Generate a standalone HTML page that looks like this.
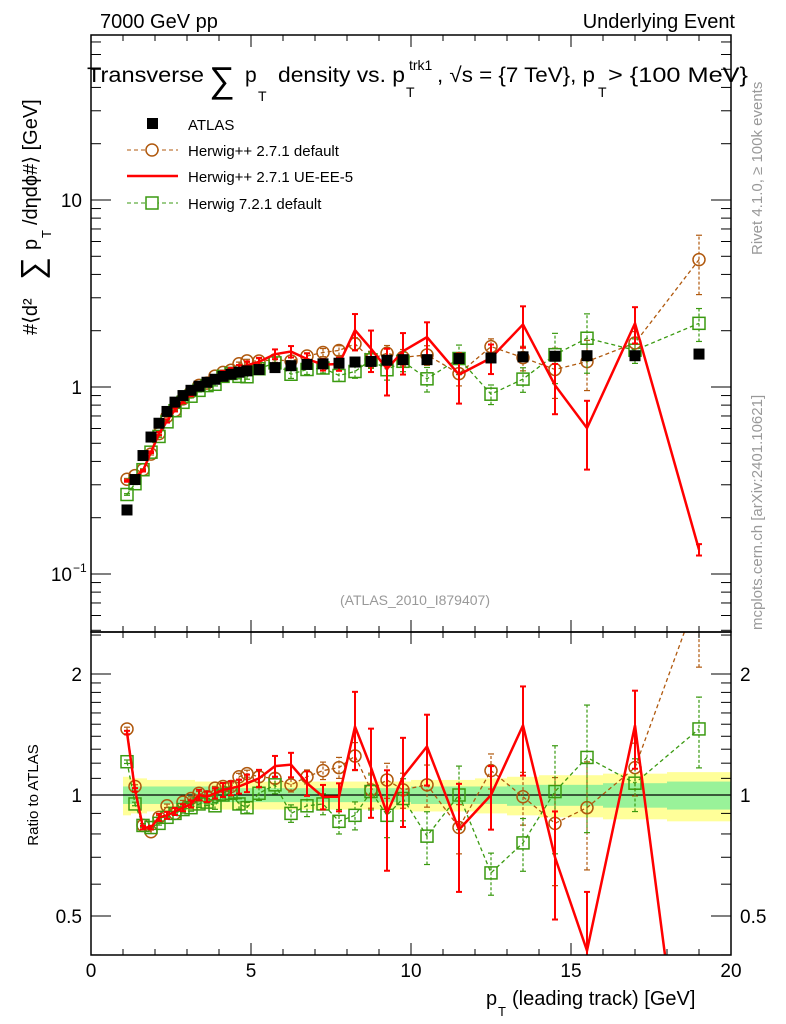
<!DOCTYPE html>
<html><head><meta charset="utf-8"><style>
html,body{margin:0;padding:0;background:#fff;overflow:hidden}
svg{display:block;font-family:"Liberation Sans",sans-serif}
</style></head><body>
<svg id="c" width="786" height="1024" viewBox="0 0 786 1024" xmlns="http://www.w3.org/2000/svg">
<text x="100" y="28" font-size="20">7000 GeV pp</text>
<text x="735" y="28" font-size="20" text-anchor="end">Underlying Event</text>
<g font-size="21">
<text x="87" y="82" textLength="117" lengthAdjust="spacingAndGlyphs">Transverse</text>
<text x="209" y="92" font-size="36">∑</text>
<text x="245" y="82">p</text><text x="258" y="101" font-size="14">T</text>
<text x="278" y="82" textLength="127" lengthAdjust="spacingAndGlyphs">density vs. p</text><text x="409" y="70" font-size="14">trk1</text><text x="406" y="97" font-size="14">T</text>
<text x="437" y="82" textLength="158" lengthAdjust="spacingAndGlyphs">, √s = {7 TeV}, p</text><text x="598" y="97" font-size="14">T</text>
<text x="608" y="82" textLength="140" lengthAdjust="spacingAndGlyphs">&gt; {100 MeV}</text>
</g>
<g transform="translate(37,335) rotate(-90)" font-size="20">
<text x="0" y="0">#⟨d² </text><text x="55" y="6" font-size="32">∑</text><text x="85" y="0">p</text><text x="97" y="14" font-size="13">T</text><text x="110" y="0">/dηdϕ#⟩ [GeV]</text>
</g>
<text transform="translate(762,255) rotate(-90)" font-size="15" fill="#999">Rivet 4.1.0, ≥ 100k events</text>
<text transform="translate(762,630) rotate(-90)" font-size="15" fill="#999">mcplots.cern.ch [arXiv:2401.10621]</text>
<text x="415" y="605" font-size="14" fill="#999" text-anchor="middle">(ATLAS_2010_I879407)</text>
<text transform="translate(38,795) rotate(-90)" font-size="15" text-anchor="middle">Ratio to ATLAS</text>
<g font-size="20"><text x="486" y="1005">p</text><text x="498" y="1016" font-size="13">T</text><text x="512" y="1005">(leading track) [GeV]</text></g>
<g font-size="15">
<g><rect x="147" y="118" width="11" height="11" fill="#000"/><text x="188" y="130">ATLAS</text></g>
<g><line x1="127" y1="150" x2="178" y2="150" stroke="#b0590e" stroke-dasharray="4,3"/><circle cx="152" cy="150" r="6" fill="#fff" stroke="#b0590e" stroke-width="1.5"/><text x="188" y="156">Herwig++ 2.7.1 default</text></g>
<g><line x1="127" y1="176" x2="178" y2="176" stroke="#f00" stroke-width="2.5"/><text x="188" y="182">Herwig++ 2.7.1 UE-EE-5</text></g>
<g><line x1="127" y1="203" x2="178" y2="203" stroke="#3a9a10" stroke-dasharray="4,3"/><rect x="146" y="197" width="12" height="12" fill="#fff" stroke="#3a9a10" stroke-width="1.5"/><text x="188" y="209">Herwig 7.2.1 default</text></g>
</g>
<g id="plots"></g>
</svg>
<script>
const xVals=[1.125,1.375,1.625,1.875,2.125,2.375,2.625,2.875,3.125,3.375,3.625,3.875,4.125,4.375,4.625,4.875,5.25,5.75,6.25,6.75,7.25,7.75,8.25,8.75,9.25,9.75,10.5,11.5,12.5,13.5,14.5,15.5,17,19];
const binEdges=[1,1.25,1.5,1.75,2,2.25,2.5,2.75,3,3.25,3.5,3.75,4,4.25,4.5,4.75,5,5.5,6,6.5,7,7.5,8,8.5,9,9.5,10,11,12,13,14,15,16,18,20];
const atlas=[0.22,0.32,0.43,0.54,0.64,0.74,0.83,0.90,0.96,1.01,1.06,1.10,1.14,1.17,1.20,1.22,1.24,1.27,1.30,1.32,1.33,1.34,1.36,1.37,1.39,1.40,1.40,1.42,1.43,1.45,1.46,1.47,1.47,1.50];
const atlasStat=[0.05,0.05,0.05,0.05,0.05,0.05,0.05,0.05,0.05,0.05,0.05,0.05,0.04,0.04,0.04,0.04,0.04,0.04,0.04,0.04,0.04,0.04,0.04,0.04,0.04,0.04,0.05,0.05,0.05,0.06,0.06,0.06,0.07,0.08];
const atlasTot=[0.11,0.10,0.10,0.09,0.09,0.09,0.09,0.09,0.09,0.08,0.08,0.08,0.08,0.08,0.08,0.08,0.08,0.08,0.08,0.08,0.08,0.08,0.08,0.08,0.08,0.08,0.09,0.09,0.10,0.11,0.12,0.12,0.13,0.14];
const ratioHppDef=[1.46,1.05,0.84,0.81,0.88,0.94,0.90,0.96,0.98,1.01,0.99,1.04,1.05,1.05,1.11,1.13,1.11,1.10,1.06,1.11,1.15,1.17,1.25,1.03,1.09,1.03,1.06,0.83,1.15,0.99,0.85,0.93,1.17,3.2];
const ratioHppUE=[1.43,1.03,0.83,0.83,0.88,0.89,0.91,0.93,0.95,1.0,0.99,1.01,1.03,1.04,1.05,1.07,1.10,1.18,1.19,1.07,0.99,0.99,1.48,1.17,0.90,1.11,1.32,0.82,1.0,1.49,0.70,0.41,1.49,0.09];
const ratioH7=[1.21,0.95,0.84,0.83,0.85,0.88,0.90,0.92,0.93,0.95,0.96,0.94,1.0,1.01,0.95,0.93,1.01,1.06,0.90,0.94,0.95,0.86,0.89,1.02,0.89,0.98,0.79,1.0,0.64,0.76,1.02,1.24,1.07,1.46];
const errHppDef=[0.01,0.01,0.01,0.01,0.01,0.01,0.01,0.01,0.01,0.01,0.01,0.01,0.02,0.02,0.02,0.02,0.03,0.03,0.04,0.04,0.05,0.06,0.08,0.1,0.1,0.1,0.12,0.14,0.1,0.15,0.3,0.3,0.15,0.35];
const errHppUE=[0.01,0.01,0.01,0.01,0.02,0.02,0.02,0.02,0.02,0.03,0.03,0.03,0.04,0.04,0.04,0.05,0.05,0.06,0.07,0.07,0.07,0.08,0.22,0.25,0.28,0.25,0.2,0.3,0.18,0.25,0.3,0.4,0.22,0.07];
const errH7=[0.01,0.01,0.01,0.01,0.01,0.01,0.01,0.02,0.02,0.02,0.02,0.02,0.03,0.03,0.03,0.03,0.04,0.05,0.05,0.06,0.06,0.07,0.08,0.1,0.12,0.12,0.15,0.18,0.12,0.15,0.3,0.35,0.15,0.2];

const NS='http://www.w3.org/2000/svg';
const g=document.getElementById('plots');
function el(t,a,p){const e=document.createElementNS(NS,t);for(const k in a)e.setAttribute(k,a[k]);(p||g).appendChild(e);return e;}
const X0=91,X1=731;
const xs=v=>X0+(X1-X0)*v/20;
const ys=v=>387-187*Math.log10(v);
const yr=v=>795-121*Math.log2(v);
const MT=35,MB=632,RT=632,RB=955;

for(let i=0;i<xVals.length;i++){
  const a=xs(binEdges[i]),b=xs(binEdges[i+1]);
  const r1=el('rect',{x:a,y:yr(1+atlasTot[i]),width:b-a,height:yr(1-atlasTot[i])-yr(1+atlasTot[i]),fill:'#ffff99'});
  
  
  const r2=el('rect',{x:a,y:yr(1+atlasStat[i]),width:b-a,height:yr(1-atlasStat[i])-yr(1+atlasStat[i]),fill:'#99f299'});
  
  
}
el('line',{x1:X0,y1:yr(1),x2:X1,y2:yr(1),stroke:'#000','stroke-width':1.2});

const defs=el('defs',{});
const c1=el('clipPath',{id:'cm'},defs);el('rect',{x:X0,y:MT,width:X1-X0,height:MB-MT},c1);
const c2=el('clipPath',{id:'cr'},defs);el('rect',{x:X0,y:RT,width:X1-X0,height:RB-RT},c2);
const gm=el('g',{'clip-path':'url(#cm)'});
const gr=el('g',{'clip-path':'url(#cr)'});

const series=[
 {r:ratioHppDef,e:errHppDef,c:'#b0590e',dash:'4,3',w:1.3,m:'circle',n:'herwigpp-default'},
 {r:ratioH7,e:errH7,c:'#3a9a10',dash:'4,3',w:1.3,m:'square',n:'herwig7-default'},
 {r:ratioHppUE,e:errHppUE,c:'#f00',dash:null,w:2.5,m:null,n:'herwigpp-ueee5'}
];
for(const s of series){
  for(const [grp,yf,isR] of [[gm,ys,false],[gr,yr,true]]){
    const pts=xVals.map((x,i)=>{const v=isR?s.r[i]:s.r[i]*atlas[i];return [xs(x),yf(v)];});
    const pl=el('polyline',{points:pts.map(p=>p.join(',')).join(' '),fill:'none',stroke:s.c,'stroke-width':s.w},grp);
    if(s.dash)pl.setAttribute('stroke-dasharray',s.dash);
    
    
    xVals.forEach((x,i)=>{
      const v=isR?s.r[i]:s.r[i]*atlas[i];
      const e=s.e[i];
      const lo=yf(v*(1-e)),hi=yf(v*(1+e)),px=xs(x);
      const eb=el('g',{stroke:s.c,'stroke-width':s.w>2?2:1.2},grp);
      
      
      const ln=el('line',{x1:px,y1:lo,x2:px,y2:hi},eb);if(s.dash)ln.setAttribute('stroke-dasharray','3,2');
      el('line',{x1:px-3,y1:lo,x2:px+3,y2:lo},eb);el('line',{x1:px-3,y1:hi,x2:px+3,y2:hi},eb);
      let mk;
      if(s.m==='circle')mk=el('circle',{cx:px,cy:yf(v),r:6,fill:'none',stroke:s.c,'stroke-width':1.5},grp);
      else if(s.m==='square')mk=el('rect',{x:px-6,y:yf(v)-6,width:12,height:12,fill:'none',stroke:s.c,'stroke-width':1.5},grp);
      if(mk){}
    });
  }
}
xVals.forEach((x,i)=>{
  const r=el('rect',{x:xs(x)-5.5,y:ys(atlas[i])-5.5,width:11,height:11,fill:'#000'},gm);
  
  
});

function frame(top,bot,name){
  const f=el('rect',{x:X0,y:top,width:X1-X0,height:bot-top,fill:'none',stroke:'#000','stroke-width':1.5});
  
  
  for(let v=0;v<=20;v++){
    const L=v%5===0?12:6,px=xs(v);
    el('line',{x1:px,y1:bot,x2:px,y2:bot-L,stroke:'#000'});
    el('line',{x1:px,y1:top,x2:px,y2:top+L,stroke:'#000'});
  }
}
frame(MT,MB,'main-plot-frame');
frame(RT,RB,'ratio-plot-frame');
[0,5,10,15,20].forEach(v=>{const t=el('text',{x:xs(v),y:977,'font-size':19,'text-anchor':'middle'});t.textContent=v;
  });
for(let d=-2;d<=1;d++)for(let m=1;m<10;m++){
  const v=m*Math.pow(10,d),y=ys(v);if(y<MT||y>MB)continue;
  const L=m===1?20:10;
  el('line',{x1:X0,y1:y,x2:X0+L,y2:y,stroke:'#000'});el('line',{x1:X1,y1:y,x2:X1-L,y2:y,stroke:'#000'});
}
const mainTicks=[0.1,1,10],mainLabels=['10','1','10'];
mainTicks.forEach((v,i)=>{const t=el('text',{x:v===0.1?72:82,y:ys(v)+7,'font-size':19,'text-anchor':'end'});t.textContent=mainLabels[i];
  });
{const t=el('text',{x:73,y:ys(0.1)-2,'font-size':12});t.textContent='−1';}
const rMinor=[0.4,0.5,0.6,0.7,0.8,0.9,1,1.1,1.2,1.3,1.4,1.5,1.6,1.7,1.8,1.9,2,2.5];
rMinor.forEach(v=>{const y=yr(v);if(y<RT||y>RB)return;const L=(v===0.5||v===1||v===2)?20:10;
  el('line',{x1:X0,y1:y,x2:X0+L,y2:y,stroke:'#000'});el('line',{x1:X1,y1:y,x2:X1-L,y2:y,stroke:'#000'});});
const rTicks=[0.5,1,2],rLabels=['0.5','1','2'];
rTicks.forEach((v,i)=>{
  const t=el('text',{x:82,y:yr(v)+7,'font-size':19,'text-anchor':'end'});t.textContent=rLabels[i];
  
  const t2=el('text',{x:740,y:yr(v)+7,'font-size':19});t2.textContent=rLabels[i];
  
});
</script>
</body></html>
